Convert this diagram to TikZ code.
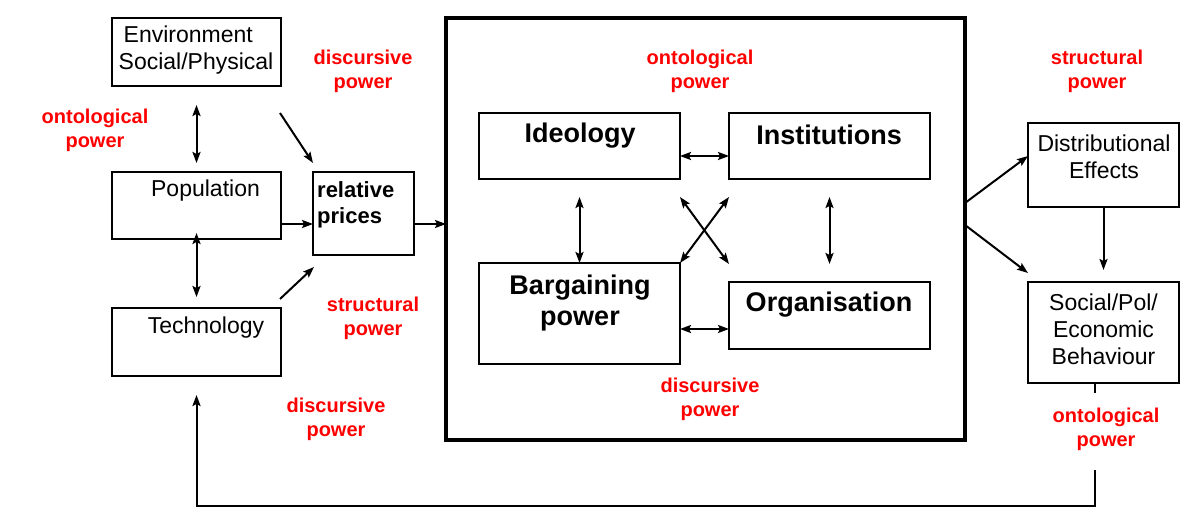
\documentclass[tikz,border=0pt]{standalone}
\usepackage{fontspec}
\setmainfont{Liberation Sans}
\usetikzlibrary{arrows.meta,calc}
\tikzset{
  box/.style={draw,line width=2pt,inner sep=0pt,outer sep=0pt},
  txt/.style={inner sep=0pt,font=\fontsize{23}{27}\selectfont,align=center},
  btxt/.style={inner sep=0pt,font=\fontsize{27}{31}\selectfont\bfseries,align=center},
  rtxt/.style={inner sep=0pt,text=red,font=\fontsize{20}{24}\selectfont\bfseries,align=center},
  arr/.style={line width=2pt,-{Stealth[length=11pt,width=8pt,inset=2pt]}},
  dbl/.style={line width=2pt,{Stealth[length=11pt,width=8pt,inset=2pt]}-{Stealth[length=11pt,width=8pt,inset=2pt]}}
}
\begin{document}
\begin{tikzpicture}[x=1pt,y=-1pt]
\useasboundingbox (0,0) rectangle (1200,527);
% boxes
\node[box,minimum width=169pt,minimum height=68pt] (env) at (196.5,52) {};
\node[box,minimum width=169pt,minimum height=67pt] (pop) at (196.5,205.5) {};
\node[box,minimum width=169pt,minimum height=68pt] (tech) at (196.5,342) {};
\node[box,minimum width=101pt,minimum height=83pt] (rp) at (363.5,213.5) {};
\node[box,line width=4.5pt,minimum width=519pt,minimum height=422pt] (big) at (705.5,229) {};
\node[box,minimum width=201pt,minimum height=66pt] (ideo) at (579.5,146) {};
\node[box,minimum width=201pt,minimum height=66pt] (inst) at (829.5,146) {};
\node[box,minimum width=201pt,minimum height=101pt] (barg) at (579.5,313.5) {};
\node[box,minimum width=201pt,minimum height=67pt] (org) at (829.5,315.5) {};
\node[box,minimum width=151pt,minimum height=84pt] (dist) at (1103.5,165) {};
\node[box,minimum width=151pt,minimum height=101pt] (soc) at (1103.5,332.5) {};
% box texts
\node[txt,align=left] (envt) at (196,50.5) {\hspace{5pt}Environment\\Social/Physical};
\node[txt] (popt) at (205.5,191) {Population};
\node[txt] (techt) at (206,328) {Technology};
\node[txt,align=left,anchor=west,font=\fontsize{22}{26}\selectfont\bfseries] (rpt) at (317,205) {relative\\prices};
\node[btxt] (ideot) at (580,135.5) {Ideology};
\node[btxt] (instt) at (829,135) {Institutions};
\node[btxt] (bargt) at (580,303) {Bargaining\\power};
\node[btxt] (orgt) at (829,304.5) {Organisation};
\node[txt] (distt) at (1104,156.5) {Distributional\\Effects};
\node[txt] (soct) at (1103.5,329) {Social/Pol/\\Economic\\Behaviour};
% red labels
\node[rtxt] (r1) at (363,71) {discursive\\power};
\node[rtxt] (r2) at (95,130) {ontological\\power};
\node[rtxt] (r3) at (700,71) {ontological\\power};
\node[rtxt] (r4) at (1097,71) {structural\\power};
\node[rtxt] (r5) at (373,318) {structural\\power};
\node[rtxt] (r6) at (336,419) {discursive\\power};
\node[rtxt] (r7) at (710,399) {discursive\\power};
\node[rtxt] (r8) at (1106,429) {ontological\\power};
% free-end coordinates
\coordinate (d1s) at (280,113);
\coordinate (d1e) at (313,163);
\coordinate (d2s) at (280,299);
\coordinate (d2e) at (314,267);
\coordinate (h1) at (0,224);
\coordinate (h2) at (0,156);
\coordinate (h3) at (0,329);
\coordinate (x1) at (680,197);
\coordinate (x2) at (729,264);
\coordinate (x3) at (729,197);
\coordinate (x4) at (680,263);
\coordinate (o1s) at (965,203);
\coordinate (o1e) at (1028,156);
\coordinate (o2s) at (965,225);
\coordinate (o2e) at (1028,273);
\coordinate (tk1) at (1095,383);
\coordinate (tk2) at (1095,393);
\coordinate (fbtop) at (1095,470);
\coordinate (fbcorner) at (1095,506);
% connectors
\draw[dbl,shorten <=19pt,shorten >=9pt] (env.south) -- (pop.north);
\draw[dbl,shorten <=-6pt,shorten >=11pt] (pop.south) -- (tech.north);
\draw[arr] (d1s) -- (d1e);
\draw[arr] (d2s) -- (d2e);
\draw[arr] (pop.east |- h1) -- (rp.west |- h1);
\draw[arr] (rp.east |- h1) -- (big.west |- h1);
\draw[dbl] (ideo.east |- h2) -- (inst.west |- h2);
\draw[dbl] (barg.east |- h3) -- (org.west |- h3);
\draw[dbl,shorten <=18pt] (ideo.south) -- (barg.north);
\draw[dbl,shorten <=18pt,shorten >=18pt] (inst.south) -- (org.north);
\draw[dbl] (x1) -- (x2);
\draw[dbl] (x3) -- (x4);
\draw[arr] (o1s) -- (o1e);
\draw[arr] (o2s) -- (o2e);
\draw[arr,shorten >=12pt] (dist.south) -- (soc.north);
\draw[line width=1.5pt] (tk1) -- (tk2);
\draw[arr,shorten >=19pt] (fbtop) -- (fbcorner) -| (tech.south);
\end{tikzpicture}
\end{document}
